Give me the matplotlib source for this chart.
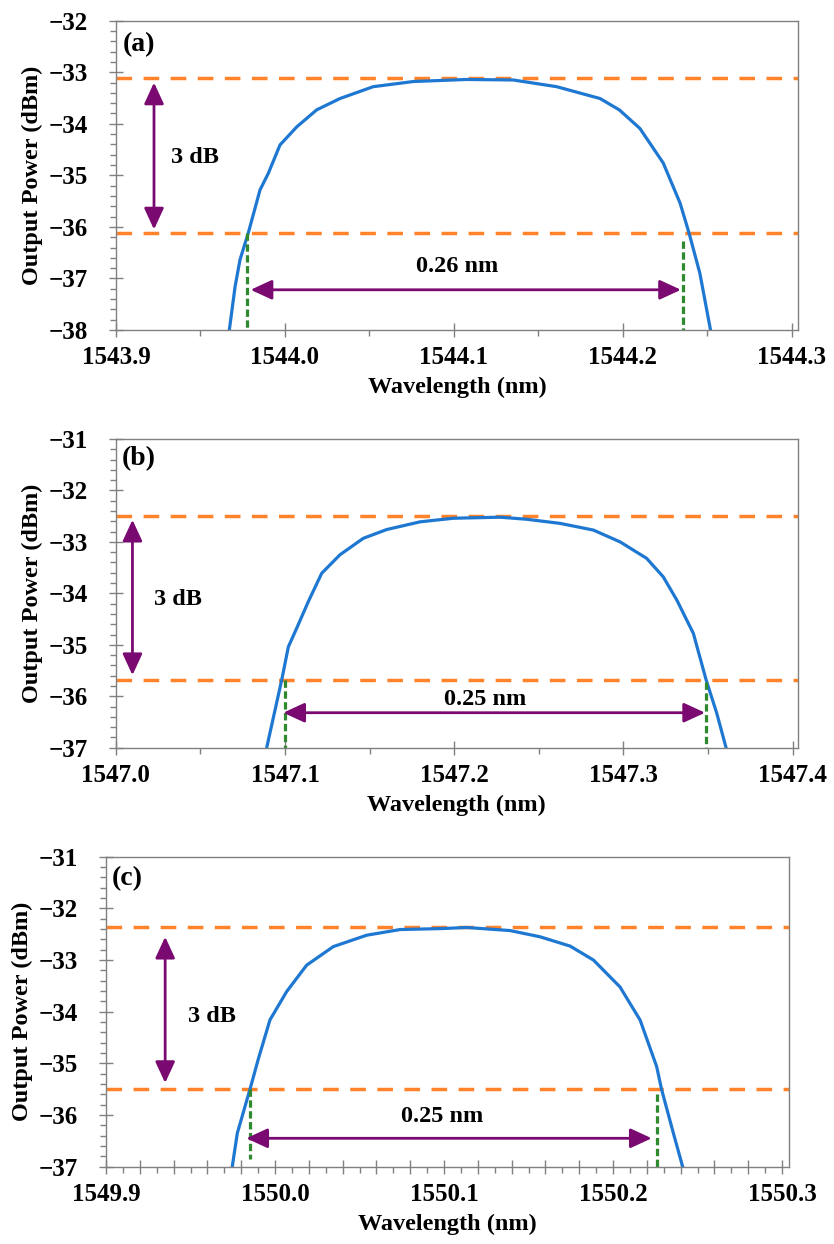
import matplotlib
matplotlib.use('Agg')
import matplotlib.pyplot as plt
from matplotlib.ticker import MultipleLocator, FuncFormatter

plt.rcParams['font.family'] = ['Liberation Serif', 'DejaVu Serif']
plt.rcParams['font.weight'] = 'bold'

# ---- data ----
# (a)
wl_a = [1543.9671, 1543.9705, 1543.9734, 1543.9783, 1543.9853, 1543.9902, 1543.9971,
        1544.0070, 1544.0188, 1544.0326, 1544.0523, 1544.0760, 1544.1076, 1544.1352,
        1544.1609, 1544.1866, 1544.1980, 1544.2102, 1544.2240, 1544.2340, 1544.2393,
        1544.2457, 1544.2520]
p_a = [-38.0, -37.16, -36.64, -36.12, -35.28, -34.96, -34.41, -34.06, -33.73, -33.51,
       -33.28, -33.18, -33.14, -33.15, -33.28, -33.51, -33.73, -34.09, -34.76, -35.54,
       -36.12, -36.90, -38.0]
levels_a = [-33.12, -36.12]
db_arrow_a = [1543.9225, -33.20, -36.05]          # x, top, bottom
green_a = [[1543.9776, -36.12, -38.0], [1544.2355, -36.27, -38.0]]
bw_arrow_a = [-37.22, 1543.9797, 1544.2345]       # y, left, right
db_text_a = [1543.9468, -34.77]
bw_text_a = [1544.1020, -36.87]
bw_label_a = '0.26 nm'

# (b)
wl_b = [1547.0892, 1547.0981, 1547.1020, 1547.1069, 1547.1138, 1547.1217, 1547.1325,
        1547.1463, 1547.1601, 1547.1798, 1547.1995, 1547.2271, 1547.2428, 1547.2625,
        1547.2822, 1547.2980, 1547.3137, 1547.3235, 1547.3315, 1547.3413, 1547.3488,
        1547.3551, 1547.3606]
p_b = [-37.0, -35.68, -35.04, -34.68, -34.16, -33.61, -33.25, -32.93, -32.76, -32.61,
       -32.54, -32.52, -32.56, -32.64, -32.77, -33.00, -33.32, -33.68, -34.13, -34.78,
       -35.68, -36.33, -37.0]
levels_b = [-32.49, -35.69]
db_arrow_b = [1547.0099, -32.57, -35.59]
green_b = [[1547.0998, -35.69, -37.0], [1547.3488, -35.72, -37.0]]
bw_arrow_b = [-36.32, 1547.0990, 1547.3482]
db_text_b = [1547.0370, -34.23]
bw_text_b = [1547.2180, -36.17]
bw_label_b = '0.25 nm'

# (c)
wl_c = [1549.9747, 1549.9777, 1549.9852, 1549.9900, 1549.9970, 1550.0069, 1550.0187,
        1550.0345, 1550.0542, 1550.0740, 1550.0996, 1550.1134, 1550.1391, 1550.1568,
        1550.1746, 1550.1884, 1550.2041, 1550.2160, 1550.2258, 1550.2287, 1550.2357,
        1550.2412]
p_c = [-37.0, -36.35, -35.50, -34.93, -34.16, -33.61, -33.10, -32.74, -32.52, -32.41,
       -32.39, -32.37, -32.43, -32.55, -32.73, -33.00, -33.52, -34.16, -35.06, -35.50,
       -36.35, -37.0]
levels_c = [-32.36, -35.50]
db_arrow_c = [1549.9350, -32.55, -35.38]
green_c = [[1549.9850, -35.50, -36.85], [1550.2262, -35.60, -37.0]]
bw_arrow_c = [-36.45, 1549.9830, 1550.2229]
db_text_c = [1549.9628, -34.19]
bw_text_c = [1550.0991, -36.13]
bw_label_c = '0.25 nm'

xlims = [(1543.9, 1544.3038), (1547.0, 1547.4031), (1549.9, 1550.3043)]
ylims = [(-38, -32), (-37, -31), (-37, -31)]
tags = ['(a)', '(b)', '(c)']

blue = '#1E78D2'
orange = '#FF832A'
purple = '#7A0A72'
green = '#2F8A2F'
grey = '#808080'

W, H = 834, 1244
fig = plt.figure(figsize=(W / 100, H / 100), dpi=100)

# axes boxes in pixels: left, top, right, bottom
boxes = [(116, 20.7, 798, 330), (115.7, 439, 798, 747.7), (106, 856.7, 789.3, 1166.7)]
tag_pos = [(0.0098, 0.922), (0.0088, 0.938), (0.0083, 0.930)]

panels = [
    (wl_a, p_a, levels_a, db_arrow_a, green_a, bw_arrow_a, db_text_a, bw_text_a, bw_label_a),
    (wl_b, p_b, levels_b, db_arrow_b, green_b, bw_arrow_b, db_text_b, bw_text_b, bw_label_b),
    (wl_c, p_c, levels_c, db_arrow_c, green_c, bw_arrow_c, db_text_c, bw_text_c, bw_label_c),
]

for i, (wl, p, lev, dba, grn, bwa, dbt, bwt, bwl) in enumerate(panels):
    l, t, r, b = boxes[i]
    ax = fig.add_axes([l / W, 1 - b / H, (r - l) / W, (b - t) / H])

    for y in lev:
        ax.axhline(y, color=orange, lw=2.5, dashes=(4.5, 3.3))
    ax.plot(wl, p, color=blue, lw=2.3, solid_joinstyle='round')
    for gx, gy0, gy1 in grn:
        ax.plot([gx, gx], [gy0, gy1], color=green, lw=2.3, dashes=(2.3, 1.1))

    head = '<|-|>,head_length=0.65,head_width=0.3'
    ax.annotate('', xy=(dba[0], dba[1]), xytext=(dba[0], dba[2]),
                arrowprops=dict(arrowstyle=head, mutation_scale=20, color=purple,
                                lw=2, shrinkA=0, shrinkB=0))
    ax.annotate('', xy=(bwa[1], bwa[0]), xytext=(bwa[2], bwa[0]),
                arrowprops=dict(arrowstyle=head, mutation_scale=20, color=purple,
                                lw=2, shrinkA=0, shrinkB=0))

    ax.text(dbt[0], dbt[1], '3 dB', fontsize=17.5, fontweight='bold',
            ha='center', va='baseline')
    ax.text(bwt[0], bwt[1], bwl, fontsize=17.5, fontweight='bold',
            ha='center', va='baseline')
    ax.text(tag_pos[i][0], tag_pos[i][1], tags[i], transform=ax.transAxes,
            fontsize=20, fontweight='bold', ha='left', va='center')

    ax.set_xlim(*xlims[i])
    ax.set_ylim(*ylims[i])

    ax.yaxis.set_major_locator(MultipleLocator(1))
    ax.yaxis.set_minor_locator(MultipleLocator(0.2))
    if i < 2:
        ax.xaxis.set_major_locator(MultipleLocator(0.1))
        ax.xaxis.set_minor_locator(MultipleLocator(0.05))
        ax.xaxis.set_major_formatter(FuncFormatter(lambda v, pos: '%.1f' % v))
    else:
        ax.xaxis.set_major_locator(MultipleLocator(0.02))
        ax.xaxis.set_minor_locator(MultipleLocator(0.01))
        ax.xaxis.set_major_formatter(FuncFormatter(
            lambda v, pos: '%.1f' % v if abs(v * 10 - round(v * 10)) < 1e-6 else ''))
    ax.yaxis.set_major_formatter(FuncFormatter(lambda v, pos: '\u2212%d' % abs(v)))

    ax.tick_params(which='major', direction='inout', length=10, width=1,
                   color=grey, labelsize=18)
    ax.tick_params(which='minor', direction='out', length=4, width=1, color=grey)
    ax.tick_params(axis='x', which='major', pad=6.5)
    ax.tick_params(axis='y', which='major', pad=15)
    for lab in ax.get_xticklabels() + ax.get_yticklabels():
        lab.set_fontweight('bold')
    for s in ax.spines.values():
        s.set_color(grey)
        s.set_linewidth(1)

    ax.set_xlabel('Wavelength (nm)', fontsize=17.5, fontweight='bold')
    ax.set_ylabel('Output Power (dBm)', fontsize=17.5, fontweight='bold')
    ax.xaxis.set_label_coords(0.5, -0.152)
    ax.yaxis.set_label_coords(-0.107, 0.5)

fig.savefig('out.png', dpi=100)
